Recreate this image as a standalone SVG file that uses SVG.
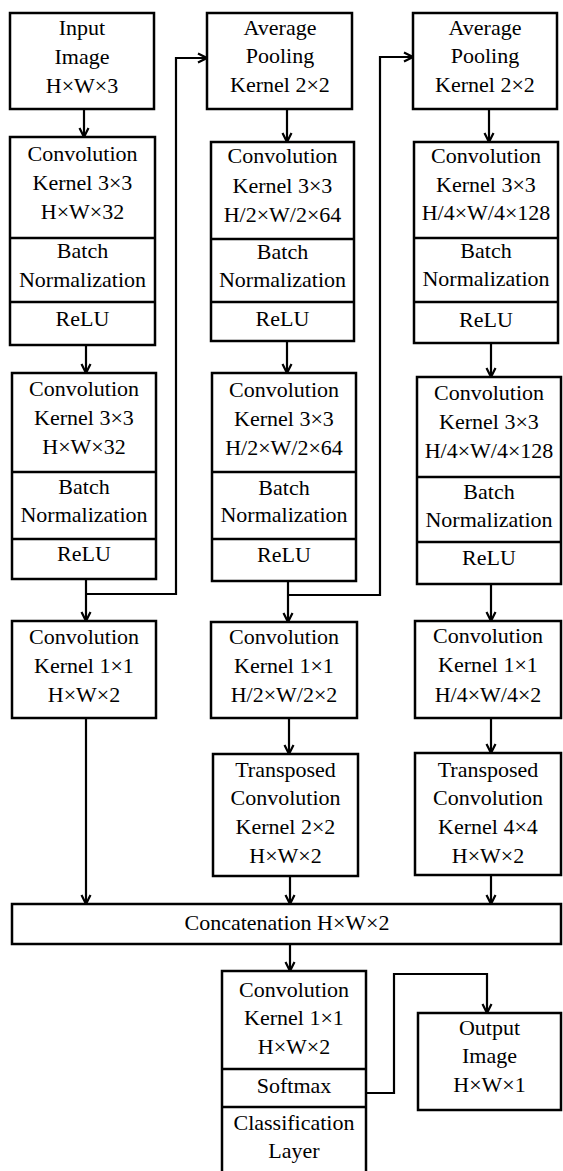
<svg xmlns="http://www.w3.org/2000/svg" width="563" height="1171" viewBox="0 0 563 1171">
<style>
.b{fill:#fff;stroke:#000;stroke-width:2.5}
.d{stroke:#000;stroke-width:2.5}
.t{font-family:"Times New Roman",Times,"Liberation Serif",Tinos,"Noto Serif","DejaVu Serif",FreeSerif,serif;font-size:22px;fill:#000;text-anchor:middle}
.c{fill:none;stroke:#000;stroke-width:2.2;marker-end:url(#ah)}
</style>
<defs>
<marker id="ah" viewBox="-1 -1 12 12" refX="10" refY="5" markerWidth="12" markerHeight="12" markerUnits="userSpaceOnUse" orient="auto">
<path d="M1,0.5 L10,5 L1,9.5" fill="none" stroke="#000" stroke-width="2.2"/>
</marker>
</defs>
<rect width="563" height="1171" fill="#fff"/>
<g id="connectors">
<path class="c" d="M84,109 V137"/>
<path class="c" d="M86,345 V373"/>
<path class="c" d="M86,579 V621"/>
<path class="c" d="M86,594 H176 V58 H207"/>
<path class="c" d="M86,718 V904"/>
<path class="c" d="M287,109 V142"/>
<path class="c" d="M287,341 V373"/>
<path class="c" d="M288,581 V622"/>
<path class="c" d="M288,595 H380 V57 H413"/>
<path class="c" d="M289,718 V754"/>
<path class="c" d="M290,876 V904"/>
<path class="c" d="M489,109 V142"/>
<path class="c" d="M491,343 V377"/>
<path class="c" d="M491,584 V621"/>
<path class="c" d="M491,718 V753"/>
<path class="c" d="M491,875 V904"/>
<path class="c" d="M290,944 V971"/>
<path class="c" d="M366,1093 H394 V974 H487 V1013"/>
</g>
<g id="input">
<rect class="b" x="10" y="13" width="144" height="96"/>
<text class="t" x="82" y="35">Input</text>
<text class="t" x="82" y="64">Image</text>
<text class="t" x="82" y="93">H×W×3</text>
</g>
<g id="c1b1">
<rect class="b" x="10" y="137" width="145" height="208"/>
<line class="d" x1="10" y1="238" x2="155" y2="238"/>
<line class="d" x1="10" y1="302" x2="155" y2="302"/>
<text class="t" x="82.5" y="161">Convolution</text>
<text class="t" x="82.5" y="190">Kernel 3×3</text>
<text class="t" x="82.5" y="219">H×W×32</text>
<text class="t" x="82.5" y="258">Batch</text>
<text class="t" x="82.5" y="287">Normalization</text>
<text class="t" x="82.5" y="326">ReLU</text>
</g>
<g id="c1b2">
<rect class="b" x="12" y="373" width="144" height="206"/>
<line class="d" x1="12" y1="472" x2="156" y2="472"/>
<line class="d" x1="12" y1="539" x2="156" y2="539"/>
<text class="t" x="84" y="396">Convolution</text>
<text class="t" x="84" y="425">Kernel 3×3</text>
<text class="t" x="84" y="454">H×W×32</text>
<text class="t" x="84" y="494">Batch</text>
<text class="t" x="84" y="522">Normalization</text>
<text class="t" x="84" y="561">ReLU</text>
</g>
<g id="c1conv1">
<rect class="b" x="12" y="621" width="144" height="97"/>
<text class="t" x="84" y="644">Convolution</text>
<text class="t" x="84" y="673">Kernel 1×1</text>
<text class="t" x="84" y="702">H×W×2</text>
</g>
<g id="c2pool">
<rect class="b" x="207" y="13" width="145" height="96"/>
<text class="t" x="280" y="35">Average</text>
<text class="t" x="280" y="63">Pooling</text>
<text class="t" x="280" y="92">Kernel 2×2</text>
</g>
<g id="c2b1">
<rect class="b" x="211" y="142" width="143" height="199"/>
<line class="d" x1="211" y1="239" x2="354" y2="239"/>
<line class="d" x1="211" y1="302" x2="354" y2="302"/>
<text class="t" x="282.5" y="163">Convolution</text>
<text class="t" x="282.5" y="193">Kernel 3×3</text>
<text class="t" x="282.5" y="222">H/2×W/2×64</text>
<text class="t" x="282.5" y="259">Batch</text>
<text class="t" x="282.5" y="287">Normalization</text>
<text class="t" x="282.5" y="326">ReLU</text>
</g>
<g id="c2b2">
<rect class="b" x="212" y="373" width="144" height="208"/>
<line class="d" x1="212" y1="472" x2="356" y2="472"/>
<line class="d" x1="212" y1="539" x2="356" y2="539"/>
<text class="t" x="284" y="397">Convolution</text>
<text class="t" x="284" y="426">Kernel 3×3</text>
<text class="t" x="284" y="455">H/2×W/2×64</text>
<text class="t" x="284" y="495">Batch</text>
<text class="t" x="284" y="522">Normalization</text>
<text class="t" x="284" y="562">ReLU</text>
</g>
<g id="c2conv1">
<rect class="b" x="211" y="622" width="146" height="96"/>
<text class="t" x="284" y="644">Convolution</text>
<text class="t" x="284" y="673">Kernel 1×1</text>
<text class="t" x="284" y="702">H/2×W/2×2</text>
</g>
<g id="c2trans">
<rect class="b" x="213" y="754" width="145" height="122"/>
<text class="t" x="285.5" y="777">Transposed</text>
<text class="t" x="285.5" y="805">Convolution</text>
<text class="t" x="285.5" y="834">Kernel 2×2</text>
<text class="t" x="285.5" y="863">H×W×2</text>
</g>
<g id="c3pool">
<rect class="b" x="413" y="13" width="144" height="96"/>
<text class="t" x="485" y="35">Average</text>
<text class="t" x="485" y="63">Pooling</text>
<text class="t" x="485" y="92">Kernel 2×2</text>
</g>
<g id="c3b1">
<rect class="b" x="414" y="142" width="144" height="201"/>
<line class="d" x1="414" y1="238" x2="558" y2="238"/>
<line class="d" x1="414" y1="302" x2="558" y2="302"/>
<text class="t" x="486" y="163">Convolution</text>
<text class="t" x="486" y="192">Kernel 3×3</text>
<text class="t" x="486" y="220">H/4×W/4×128</text>
<text class="t" x="486" y="258">Batch</text>
<text class="t" x="486" y="286">Normalization</text>
<text class="t" x="486" y="327">ReLU</text>
</g>
<g id="c3b2">
<rect class="b" x="417" y="377" width="144" height="207"/>
<line class="d" x1="417" y1="477" x2="561" y2="477"/>
<line class="d" x1="417" y1="542" x2="561" y2="542"/>
<text class="t" x="489" y="400">Convolution</text>
<text class="t" x="489" y="429">Kernel 3×3</text>
<text class="t" x="489" y="458">H/4×W/4×128</text>
<text class="t" x="489" y="499">Batch</text>
<text class="t" x="489" y="527">Normalization</text>
<text class="t" x="489" y="565">ReLU</text>
</g>
<g id="c3conv1">
<rect class="b" x="415" y="621" width="146" height="97"/>
<text class="t" x="488" y="643">Convolution</text>
<text class="t" x="488" y="672">Kernel 1×1</text>
<text class="t" x="488" y="702">H/4×W/4×2</text>
</g>
<g id="c3trans">
<rect class="b" x="415" y="753" width="146" height="122"/>
<text class="t" x="488" y="777">Transposed</text>
<text class="t" x="488" y="805">Convolution</text>
<text class="t" x="488" y="834">Kernel 4×4</text>
<text class="t" x="488" y="863">H×W×2</text>
</g>
<g id="concat">
<rect class="b" x="12" y="904" width="549" height="40"/>
<text class="t" x="287" y="930">Concatenation H×W×2</text>
</g>
<g id="final">
<rect class="b" x="222" y="971" width="144" height="215"/>
<line class="d" x1="222" y1="1069" x2="366" y2="1069"/>
<line class="d" x1="222" y1="1107" x2="366" y2="1107"/>
<text class="t" x="294" y="997">Convolution</text>
<text class="t" x="294" y="1025">Kernel 1×1</text>
<text class="t" x="294" y="1054">H×W×2</text>
<text class="t" x="294" y="1093">Softmax</text>
<text class="t" x="294" y="1130">Classification</text>
<text class="t" x="294" y="1158">Layer</text>
</g>
<g id="output">
<rect class="b" x="418" y="1013" width="143" height="97"/>
<text class="t" x="489.5" y="1035">Output</text>
<text class="t" x="489.5" y="1063">Image</text>
<text class="t" x="489.5" y="1092">H×W×1</text>
</g>
</svg>
